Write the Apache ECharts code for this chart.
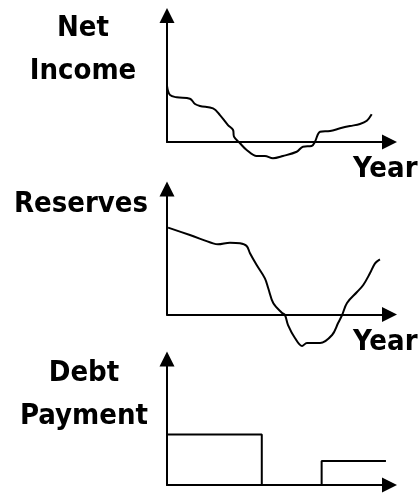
<!DOCTYPE html>
<html>
<head>
<meta charset="utf-8">
<script src="https://cdn.jsdelivr.net/npm/echarts@6/dist/echarts.min.js"></script>
<style>
  html, body { margin: 0; padding: 0; background: #fff; }
  #chart { width: 419px; height: 493px; }
</style>
</head>
<body>
<div id="chart"></div>
<script>
// values, x runs 0..100 along each "Year" axis
const incomeYears = [0, 1.3, 4.4, 10.3, 12.6, 14.8, 20.7, 23.8, 27.4, 29.7, 30.1, 32.8, 35.8, 40.3, 44.0, 47.6, 52.1, 58.3, 61.1, 65.0, 66.5, 68.8, 73.3, 77.8, 82.2, 86.7, 89.8, 92.0];
const incomeValues = [44.3, 37.2, 35.3, 34.2, 30.0, 28.5, 26.6, 21.3, 13.4, 9.5, 4.2, -1.0, -6.3, -11.1, -11.1, -12.9, -11.1, -7.7, -3.7, -3.2, 0.2, 8.1, 8.7, 10.8, 12.6, 14.2, 16.8, 21.9];

const reserveYears = [0.5, 10.3, 20.7, 22.9, 28.3, 32.8, 35.8, 37.3, 40.3, 44.0, 45.5, 47.8, 51.6, 53.0, 54.4, 57.5, 60.7, 62.9, 68.8, 74.2, 76.9, 78.7, 80.9, 85.4, 88.2, 91.2, 93.5, 95.7];
const reserveValues = [69.2, 63.3, 56.7, 55.9, 57.2, 56.7, 54.6, 48.8, 39.4, 28.8, 20.9, 8.9, 1.4, -0.4, -8.4, -18.7, -25.1, -22.7, -22.7, -16.3, -6.8, -0.4, 9.2, 17.9, 23.5, 32.8, 40.8, 44.0];

const debtYears = [0, 42.6, 69.5, 98.4];
const debtValues = [40, 0, 19, 19];

const panelLabels = ["Net\nIncome", "Reserves", "Debt\nPayment"];
const axisName = "Year";

const font = "DejaVu Sans Condensed";
const pair = (xs, ys) => xs.map((x, i) => [x, ys[i]]);

const grids = [
  { left: 167, right: 29.5, top: 15.5, bottom: 351 },
  { left: 167, right: 29.5, top: 189, bottom: 178.5 },
  { left: 167, right: 29.5, top: 359, bottom: 8 }
];

const axisLine = {
  symbol: ["none", "triangle"],
  symbolSize: [15, 15],
  lineStyle: { color: "#000", width: 2 }
};

const xAxes = grids.map((g, i) => ({
  type: "value",
  gridIndex: i,
  min: 0,
  max: 100,
  name: i < 2 ? axisName : "",
  nameLocation: "end",
  nameGap: 28,
  nameTextStyle: {
    fontFamily: font,
    fontWeight: "bold",
    fontSize: 29,
    color: "#000",
    align: "right",
    verticalAlign: "top",
    padding: [13, 0, 0, 0]
  },
  axisLine: axisLine,
  axisTick: { show: false },
  axisLabel: { show: false },
  splitLine: { show: false }
}));

const yAxes = grids.map((g, i) => ({
  type: "value",
  gridIndex: i,
  min: 0,
  max: 100,
  axisLine: axisLine,
  axisTick: { show: false },
  axisLabel: { show: false },
  splitLine: { show: false }
}));

const lineStyle = { color: "#000", width: 2 };

const labelY = [7, 183, 352];
const labelX = [83, 81, 84];

const chart = echarts.init(document.getElementById("chart"));
chart.setOption({
  animation: false,
  backgroundColor: "#fff",
  grid: grids,
  xAxis: xAxes,
  yAxis: yAxes,
  graphic: panelLabels.map((t, i) => ({
    type: "text",
    x: labelX[i],
    y: labelY[i],
    style: {
      text: t,
      fill: "#000",
      font: "bold 29px '" + font + "'",
      lineHeight: 43,
      textAlign: "center",
      textVerticalAlign: "top"
    }
  })),
  series: [
    {
      type: "line", xAxisIndex: 0, yAxisIndex: 0, clip: false,
      data: pair(incomeYears, incomeValues),
      smooth: 0.35, showSymbol: false, lineStyle: lineStyle
    },
    {
      type: "line", xAxisIndex: 1, yAxisIndex: 1, clip: false,
      data: pair(reserveYears, reserveValues),
      smooth: 0.35, showSymbol: false, lineStyle: lineStyle
    },
    {
      type: "line", xAxisIndex: 2, yAxisIndex: 2, clip: false,
      data: pair(debtYears, debtValues),
      step: "end", showSymbol: false, lineStyle: lineStyle
    }
  ]
});
</script>
</body>
</html>
